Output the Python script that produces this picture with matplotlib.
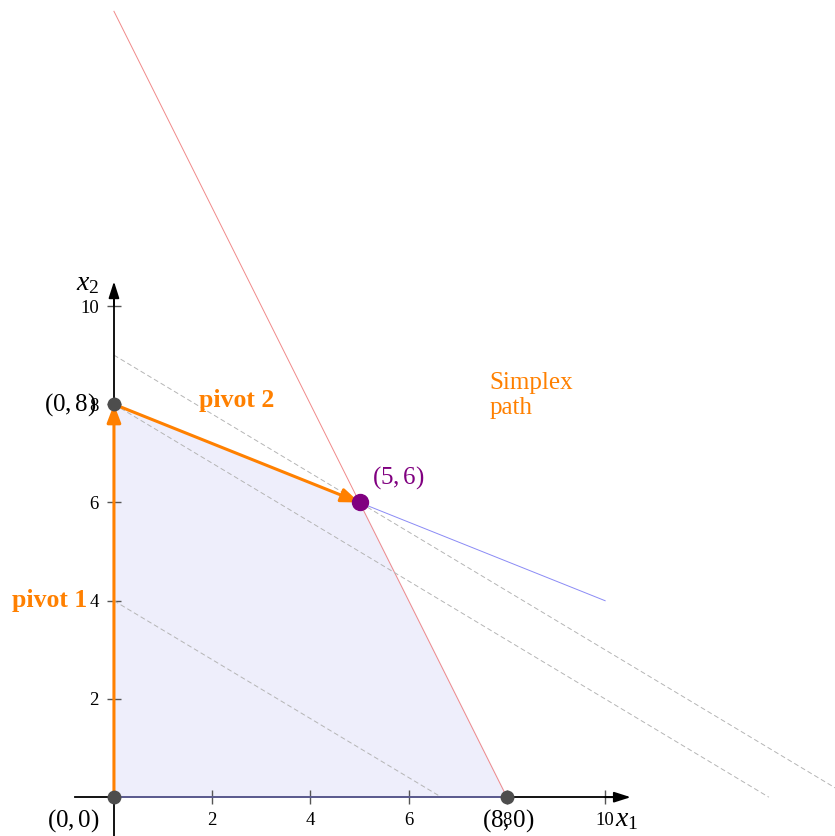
import numpy as np
import matplotlib.pyplot as plt

plt.rcParams['font.family'] = ['Liberation Serif', 'DejaVu Serif']
plt.rcParams['mathtext.fontset'] = 'custom'
plt.rcParams['mathtext.rm'] = 'Liberation Serif'
plt.rcParams['mathtext.it'] = 'Liberation Serif:italic'

# data
region_x = [0, 0, 5, 8]
region_y = [0, 8, 6, 0]
vertex_x = [0, 0, 8]
vertex_y = [0, 8, 0]
vertex_labels = ["$(0,0)$", "$(0,8)$", "$(8,0)$"]
optimum = (5, 6)
path_x = [0, 0, 5]
path_y = [0, 8, 6]
obj_levels = [20, 40, 45]       # 3x1 + 5x2 = c
ticks = [2, 4, 6, 8, 10]

orange = "#ff8000"
purple = "#800080"

fig = plt.figure(figsize=(8.35, 8.36), dpi=100)
ax = fig.add_axes([0, 0, 1, 1])
ax.set_xlim(-2.32, 14.68)
ax.set_ylim(-0.79, 16.23)

# feasible region
ax.fill(region_x, region_y, color="#eeeefb", zorder=1)
ax.plot([0, 8], [0, 0], color="#6a6aa8", lw=1.2, zorder=3)

# constraints
xs = np.array([0, 8])
ax.plot(xs, 16 - 2 * xs, color="#f08a8a", lw=0.7, zorder=2)
xs = np.array([0, 10])
ax.plot(xs, 8 - 0.4 * xs, color="#8a8af5", lw=0.7, zorder=2)

# objective level lines
for c in obj_levels:
    xs = np.array([0, c / 3])
    ax.plot(xs, (c - 3 * xs) / 5, color="#b5b5b5", lw=0.7,
            dashes=(5, 3), zorder=2)

# axes
for s in ["top", "right"]:
    ax.spines[s].set_visible(False)
ax.spines["left"].set_position(("data", 0))
ax.spines["bottom"].set_position(("data", 0))
ax.spines["left"].set_bounds(-0.8, 10.2)
ax.spines["bottom"].set_bounds(-0.8, 10.2)
ax.spines["left"].set_linewidth(1.3)
ax.spines["bottom"].set_linewidth(1.3)
ax.set_xticks(ticks)
ax.set_yticks(ticks)
ax.set_xticklabels([str(t) for t in ticks])
ax.set_yticklabels([str(t) for t in ticks])
ax.tick_params(direction="inout", length=10, width=1.0, color="#555555",
               labelsize=13.5, pad=6)
head = "-|>,head_length=1.0,head_width=0.32"
ax.annotate("", xy=(10.52, 0), xytext=(10.0, 0),
            arrowprops=dict(arrowstyle=head, color="black", lw=1.3,
                            shrinkA=0, shrinkB=0))
ax.annotate("", xy=(0, 10.5), xytext=(0, 10.0),
            arrowprops=dict(arrowstyle=head, color="black", lw=1.3,
                            shrinkA=0, shrinkB=0))
ax.text(10.2, -0.45, "$x_1$", fontsize=20, ha="left", va="center")
ax.text(-0.53, 10.45, "$x_2$", fontsize=20, ha="center", va="center")

# simplex path
for i in range(len(path_x) - 1):
    ax.annotate("", xy=(path_x[i + 1], path_y[i + 1]),
                xytext=(path_x[i], path_y[i]),
                arrowprops=dict(arrowstyle="-|>,head_length=1.1,head_width=0.42",
                                color=orange, lw=2.2, shrinkA=0, shrinkB=0),
                zorder=4)

# vertices
ax.plot(vertex_x, vertex_y, "o", color="#4d4d4d", ms=9, zorder=5)
ax.plot([optimum[0]], [optimum[1]], "o", color=purple, ms=11.5, zorder=5)

ax.text(-0.82, -0.47, vertex_labels[0], fontsize=18, ha="center", va="center")
ax.text(-0.9, 8.0, vertex_labels[1], fontsize=18, ha="center", va="center")
ax.text(8.02, -0.47, vertex_labels[2], fontsize=18, ha="center", va="center")
ax.text(5.78, 6.5, "$(5,6)$", fontsize=18, color=purple, ha="center", va="center")

ax.text(-1.3, 4.0, "pivot 1", fontsize=18.5, fontweight="bold", color=orange,
        ha="center", va="center")
ax.text(2.5, 8.08, "pivot 2", fontsize=18.5, fontweight="bold", color=orange,
        ha="center", va="center")
ax.text(7.64, 8.65, "Simplex\npath", fontsize=18, color=orange,
        ha="left", va="top", linespacing=1.15)

fig.savefig("out.png", dpi=100)
